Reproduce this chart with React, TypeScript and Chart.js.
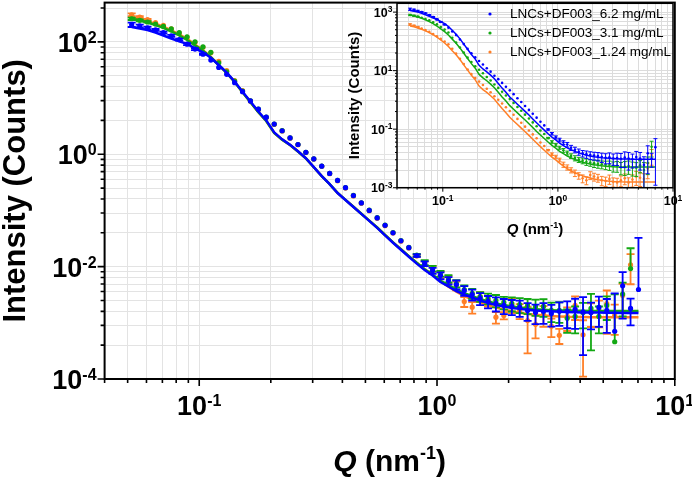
import React, { useEffect, useRef } from 'react';
import { Chart, registerables } from 'chart.js';

Chart.register(...registerables);

// ---------------- DATA ----------------
const Q = [0.0520, 0.0562, 0.0606, 0.0655, 0.0707, 0.0763, 0.0824, 0.0889, 0.0960, 0.1037, 0.1119, 0.1208, 0.1305, 0.1409, 0.1521, 0.1642, 0.1773, 0.1914, 0.2067, 0.2232, 0.2410, 0.2602, 0.2809, 0.3033, 0.3275, 0.3536, 0.3818, 0.4122, 0.4451, 0.4805, 0.5188, 0.5602, 0.6048, 0.6530, 0.7050, 0.7612, 0.8219, 0.8874, 0.9581, 1.034, 1.117, 1.206, 1.302, 1.406, 1.518, 1.639, 1.769, 1.910, 2.063, 2.227, 2.404, 2.596, 2.803, 3.026, 3.268, 3.528, 3.809, 4.113, 4.441, 4.795, 5.176, 5.589, 6.034, 6.515, 7.035];

const SERIES_LABELS = ['LNCs+DF003_6.2 mg/mL', 'LNCs+DF003_3.1 mg/mL', 'LNCs+DF003_1.24 mg/mL'];
const CONCENTRATIONS = [6.2, 3.1, 1.24];
const COLORS = ['#0000ff', '#13a813', '#ff7f27'];

// main chart: intensity normalised by concentration
const blueNorm = [202, 192, 177, 163, 146, 128, 110, 91.0, 74.3, 60.5, 47.4, 35.1, 26.4, 18.8, 13.0, 8.91, 6.34, 4.57, 3.44, 2.62, 1.95, 1.49, 1.08, 0.826, 0.614, 0.455, 0.342, 0.254, 0.184, 0.136, 0.100, 0.0736, 0.0543, 0.0400, 0.0288, 0.0217, 0.0157, 0.0113, 0.00849, 0.00693, 0.00565, 0.00480, 0.00376, 0.00319, 0.00272, 0.00240, 0.00221, 0.00204, 0.00196, 0.00188, 0.00166, 0.00153, 0.00160, 0.00147, 0.00160, 0.00160, 0.00173, 0.00156, 0.00153, 0.00188, 0.00166, 0.000708, 0.00457, 0.00180, 0.00392];
const blueErrRel = [0.09, 0.06, 0.05, 0.04, 0.04, 0.04, 0.04, 0.04, 0.04, 0.03, 0, 0, 0, 0, 0, 0, 0, 0, 0, 0, 0, 0, 0, 0, 0, 0, 0, 0, 0, 0, 0, 0, 0, 0, 0, 0, 0.05, 0.10, 0.12, 0.14, 0.15, 0.18, 0.20, 0.22, 0.24, 0.25, 0.28, 0.30, 0.30, 0.32, 0.35, 0.38, 0.40, 0.42, 0.45, 0.50, 0.55, 0.83, 0.50, 0.55, 0.60, 3.7, 0.74, 0.50, 7.3];

const greenNorm = [258, 242, 226, 208, 188, 170, 146, 123, 100, 81.6, 65.2, 42.5, 29.4, 20.0, 13.3, 8.95, 6.35, 4.58, 3.45, 2.63, 1.96, 1.49, 1.08, 0.830, 0.615, 0.455, 0.343, 0.255, 0.185, 0.137, 0.101, 0.0745, 0.0550, 0.0405, 0.0292, 0.0220, 0.0160, 0.0118, 0.00923, 0.00752, 0.00614, 0.00500, 0.00392, 0.00333, 0.00294, 0.00272, 0.00250, 0.00231, 0.00221, 0.00212, 0.00204, 0.00196, 0.00196, 0.00166, 0.00166, 0.00120, 0.00130, 0.00153, 0.00180, 0.00130, 0.00204, 0.00046, 0.00325, 0.00923];
const greenErrRel = [0.05, 0.04, 0.03, 0, 0, 0, 0, 0, 0, 0, 0, 0, 0, 0, 0, 0, 0, 0, 0, 0, 0, 0, 0, 0, 0, 0, 0, 0, 0, 0, 0, 0, 0, 0, 0, 0, 0.05, 0.10, 0.12, 0.12, 0.15, 0.15, 0.18, 0.20, 0.20, 0.22, 0.25, 0.25, 0.28, 0.30, 0.30, 0.32, 0.35, 0.38, 0.40, 0.45, 0.50, 0.48, 0.82, 0.50, 0.45, 6.0, 0.60, 1.3];

const orangeNorm = [304, 277, 250, 221, 196, 170, 144, 120, 98.0, 80.0, 63.8, 45.2, 30.7, 20.4, 13.6, 8.80, 6.20, 4.50, 3.40, 2.60, 1.93, 1.47, 1.07, 0.820, 0.610, 0.450, 0.336, 0.250, 0.181, 0.134, 0.0985, 0.0725, 0.0535, 0.0395, 0.0284, 0.0214, 0.0155, 0.0113, 0.00923, 0.00722, 0.00589, 0.00461, 0.00239, 0.00190, 0.00294, 0.00250, 0.00126, 0.00135, 0.00212, 0.00166, 0.00110, 0.00094, 0.00141, 0.00087, 0.00060, 0.00130, 0.00204, 0.00061, 0.00153, 0.00166, 0.00220, 0.00136, 0.00307, 0.0108];
const orangeErrRel = [0.06, 0.04, 0.03, 0, 0, 0, 0, 0, 0, 0, 0, 0, 0, 0, 0, 0, 0, 0, 0, 0, 0, 0, 0, 0, 0, 0, 0, 0, 0, 0, 0, 0, 0, 0, 0, 0, 0.05, 0.10, 0.12, 0.14, 0.15, 0.18, 0.20, 0.23, 0.20, 0.22, 0.23, 0.15, 0.30, 0.30, 0.74, 0.44, 0.40, 0.36, 0.30, 0.45, 0.45, 0.82, 0.45, 0.50, 0.71, 0.55, 0.60, 0.55];

// model fits (normalised)
const blueFit = [184, 173, 163, 147, 130, 115, 102, 92.2, 76.7, 65.2, 52.1, 38.7, 28.3, 19.6, 13.0, 8.67, 5.77, 4.00, 2.45, 1.84, 1.47, 1.13, 0.849, 0.589, 0.408, 0.294, 0.204, 0.153, 0.115, 0.0867, 0.0652, 0.0490, 0.0361, 0.0266, 0.0200, 0.0150, 0.0113, 0.00867, 0.00693, 0.00532, 0.00443, 0.00368, 0.00319, 0.00282, 0.00250, 0.00226, 0.00208, 0.00196, 0.00184, 0.00177, 0.00170, 0.00166, 0.00163, 0.00160, 0.00157, 0.00155, 0.00154, 0.00153, 0.00152, 0.00152, 0.00151, 0.00151, 0.00150, 0.00150, 0.00150];
const greenFit = [258, 240, 221, 200, 177, 153, 130, 108, 86.7, 69.3, 53.2, 38.5, 28.0, 19.3, 12.7, 8.40, 5.60, 3.90, 2.40, 1.82, 1.46, 1.12, 0.845, 0.586, 0.407, 0.294, 0.205, 0.154, 0.116, 0.0875, 0.0660, 0.0496, 0.0366, 0.0270, 0.0204, 0.0154, 0.0117, 0.00900, 0.00720, 0.00560, 0.00468, 0.00390, 0.00338, 0.00298, 0.00265, 0.00240, 0.00221, 0.00207, 0.00195, 0.00187, 0.00180, 0.00175, 0.00171, 0.00168, 0.00166, 0.00165, 0.00164, 0.00164, 0.00163, 0.00163, 0.00163, 0.00163, 0.00163, 0.00163, 0.00163];
const orangeFit = [271, 252, 232, 210, 186, 161, 136, 113, 90.0, 71.0, 54.0, 38.5, 28.0, 19.3, 12.7, 8.40, 5.60, 3.90, 2.40, 1.82, 1.46, 1.12, 0.845, 0.586, 0.407, 0.294, 0.205, 0.154, 0.116, 0.0875, 0.0660, 0.0496, 0.0366, 0.0270, 0.0204, 0.0154, 0.0117, 0.00900, 0.00720, 0.00560, 0.00440, 0.00360, 0.00300, 0.00262, 0.00230, 0.00205, 0.00187, 0.00172, 0.00160, 0.00151, 0.00144, 0.00139, 0.00135, 0.00132, 0.00130, 0.00128, 0.00127, 0.00127, 0.00126, 0.00126, 0.00126, 0.00126, 0.00126, 0.00126, 0.00126];

// inset: raw counts; above Q index 40 the raw points differ from the normalised ones
const HIGH_Q_START = 40;
const blueCountsHighQ = [0.0350, 0.0298, 0.0233, 0.0198, 0.0169, 0.0149, 0.0140, 0.0130, 0.0125, 0.0120, 0.0112, 0.0105, 0.0110, 0.0100, 0.0104, 0.0098, 0.0108, 0.0100, 0.0094, 0.0112, 0.0100, 0.0060, 0.0150, 0.0100, 0.0243];
const blueCountsHighQErrRel = [0.15, 0.18, 0.20, 0.22, 0.24, 0.25, 0.28, 0.30, 0.30, 0.32, 0.35, 0.38, 0.40, 0.42, 0.45, 0.50, 0.55, 0.60, 0.50, 0.55, 0.60, 0.90, 0.80, 0.50, 0.95];
const greenCountsHighQ = [0.0190, 0.0155, 0.0122, 0.0103, 0.0091, 0.0084, 0.0077, 0.0072, 0.0068, 0.0066, 0.0063, 0.0061, 0.0060, 0.0055, 0.0056, 0.0050, 0.0052, 0.0055, 0.0050, 0.0048, 0.0058, 0.0040, 0.0070, 0.0250];
const greenCountsHighQErrRel = [0.15, 0.15, 0.18, 0.20, 0.20, 0.22, 0.25, 0.25, 0.28, 0.30, 0.30, 0.32, 0.35, 0.38, 0.40, 0.45, 0.50, 0.48, 0.50, 0.50, 0.45, 0.80, 0.60, 0.55];
const orangeCountsHighQ = [0.0062, 0.0050, 0.0040, 0.0032, 0.0026, 0.0021, 0.0018, 0.0027, 0.0024, 0.0022, 0.0018, 0.0017, 0.0020, 0.0016, 0.0015, 0.0018, 0.0021, 0.0015, 0.0019, 0.0024, 0.0022, 0.0020, 0.0045, 0.0130];
const orangeCountsHighQErrRel = [0.20, 0.20, 0.20, 0.25, 0.25, 0.30, 0.30, 0.30, 0.30, 0.30, 0.35, 0.35, 0.35, 0.35, 0.40, 0.40, 0.40, 0.45, 0.45, 0.50, 0.50, 0.50, 0.55, 0.55];

// axes
const X_RANGE = [0.04, 10];
const X_TICKS = [0.1, 1, 10];
const X_TICK_LABELS = ['10^-1', '10^0', '10^1'];
const MAIN_Y_RANGE = [1e-4, 500];
const MAIN_Y_TICKS = [1e-4, 1e-2, 1, 100];
const MAIN_Y_TICK_LABELS = ['10^-4', '10^-2', '10^0', '10^2'];
const INSET_Y_RANGE = [1e-3, 2000];
const INSET_Y_TICKS = [1e-3, 1e-1, 10, 1000];
const INSET_Y_TICK_LABELS = ['10^-3', '10^-1', '10^1', '10^3'];
const Y_TITLE = 'Intensity (Counts)';
const X_TITLE_PARTS = ['Q', ' (nm', '-1', ')'];

// ---------------- HELPERS ----------------
const FF = '"Liberation Sans", Arial, Helvetica, sans-serif';

function xMinorValues(min: number, max: number) {
  const out: number[] = [];
  for (let e = -3; e <= 2; e++) {
    for (let k = 2; k <= 9; k++) {
      const v = k * Math.pow(10, e);
      if (v >= min * 0.9999 && v < max * 0.9999) out.push(v);
    }
  }
  return out;
}
// majors every two decades; Origin-style minors at major*k^2
function yMinorValues(majors: number[], max: number) {
  const out: number[] = [];
  for (const m of majors) {
    for (let k = 2; k <= 9; k++) {
      const v = m * k * k;
      if (v < max) out.push(v);
    }
  }
  return out;
}

function drawPow(ctx: any, label: string, x: number, y: number, align: string, baseFont: string, expFont: string, raise: number) {
  const [b, e] = label.split('^');
  ctx.font = baseFont;
  const wb = ctx.measureText(b).width;
  ctx.font = expFont;
  const we = ctx.measureText(e).width;
  const total = wb + we;
  const sx = align === 'center' ? x - total / 2 : align === 'right' ? x - total : x;
  ctx.textAlign = 'left';
  ctx.textBaseline = 'alphabetic';
  ctx.font = baseFont;
  ctx.fillText(b, sx, y);
  ctx.font = expFont;
  ctx.fillText(e, sx + wb, y - raise);
}

function drawQTitle(ctx: any, cx: number, y: number, size: number, expSize: number, raise: number) {
  const fonts = [`italic bold ${size}px ${FF}`, `bold ${size}px ${FF}`, `bold ${expSize}px ${FF}`, `bold ${size}px ${FF}`];
  const dys = [0, 0, -raise, 0];
  let total = 0;
  const widths = X_TITLE_PARTS.map((t, i) => { ctx.font = fonts[i]; const w = ctx.measureText(t).width; total += w; return w; });
  let x = cx - total / 2;
  ctx.textAlign = 'left';
  ctx.textBaseline = 'alphabetic';
  X_TITLE_PARTS.forEach((t, i) => { ctx.font = fonts[i]; ctx.fillText(t, x, y + dys[i]); x += widths[i]; });
}

function makeDecor(cfg: any) {
  return {
    id: 'decor',
    beforeDraw(chart: any) {
      if (!cfg.areaFill) return;
      const { ctx, chartArea: a } = chart;
      ctx.save();
      ctx.fillStyle = cfg.areaFill;
      ctx.fillRect(a.left, a.top, a.right - a.left, a.bottom - a.top);
      ctx.restore();
    },
    beforeDatasetDraw(chart: any, args: any) {
      const ds = chart.data.datasets[args.index];
      if (!ds.errors) return;
      const { ctx, chartArea: a } = chart;
      const xs = chart.scales.x, ys = chart.scales.y;
      ctx.save();
      ctx.beginPath();
      ctx.rect(a.left, a.top, a.right - a.left, a.bottom - a.top);
      ctx.clip();
      ctx.strokeStyle = ds.backgroundColor;
      ctx.lineWidth = cfg.errWidth;
      const c = cfg.errCap;
      ds.data.forEach((p: any, i: number) => {
        const e = ds.errors[i];
        if (!e) return;
        const x = xs.getPixelForValue(p.x);
        const yv = ys.getPixelForValue(p.y);
        const yHi = ys.getPixelForValue(p.y + e);
        const hasLo = p.y - e > 0;
        const yLo = hasLo ? ys.getPixelForValue(p.y - e) : yv;
        ctx.beginPath();
        ctx.moveTo(x, yHi); ctx.lineTo(x, yLo);
        ctx.moveTo(x - c, yHi); ctx.lineTo(x + c, yHi);
        if (hasLo) { ctx.moveTo(x - c, yLo); ctx.lineTo(x + c, yLo); }
        ctx.stroke();
      });
      ctx.restore();
    },
    afterDraw(chart: any) {
      const { ctx, chartArea: a } = chart;
      const xs = chart.scales.x, ys = chart.scales.y;
      ctx.save();
      ctx.strokeStyle = '#000';
      ctx.lineWidth = cfg.frameWidth;
      ctx.strokeRect(a.left, a.top, a.right - a.left, a.bottom - a.top);
      ctx.lineWidth = cfg.tickWidth;
      ctx.beginPath();
      cfg.xMajor.forEach((v: number) => { const x = xs.getPixelForValue(v); ctx.moveTo(x, a.bottom); ctx.lineTo(x, a.bottom + cfg.tickMajor); });
      cfg.xMinor.forEach((v: number) => { const x = xs.getPixelForValue(v); ctx.moveTo(x, a.bottom); ctx.lineTo(x, a.bottom + cfg.tickMinor); });
      cfg.yMajor.forEach((v: number) => { const y = ys.getPixelForValue(v); ctx.moveTo(a.left, y); ctx.lineTo(a.left - cfg.tickMajor, y); });
      cfg.yMinor.forEach((v: number) => { const y = ys.getPixelForValue(v); ctx.moveTo(a.left, y); ctx.lineTo(a.left - cfg.tickMinor, y); });
      ctx.stroke();

      ctx.fillStyle = '#000';
      cfg.xLabels.forEach((lab: string, i: number) => {
        drawPow(ctx, lab, xs.getPixelForValue(cfg.xMajor[i]), a.bottom + cfg.xLabelDy, 'center', cfg.labelFont, cfg.expFont, cfg.expRaise);
      });
      cfg.yLabels.forEach((lab: string, i: number) => {
        drawPow(ctx, lab, a.left - cfg.yLabelGap, ys.getPixelForValue(cfg.yMajor[i]) + cfg.yLabelDy, 'right', cfg.labelFont, cfg.expFont, cfg.expRaise);
      });

      // y title
      ctx.save();
      ctx.translate(cfg.yTitleX, (a.top + a.bottom) / 2);
      ctx.rotate(-Math.PI / 2);
      ctx.font = `bold ${cfg.yTitleSize}px ${FF}`;
      ctx.textAlign = 'center';
      ctx.textBaseline = 'alphabetic';
      ctx.fillText(Y_TITLE, 0, 0);
      ctx.restore();
      // x title
      drawQTitle(ctx, (a.left + a.right) / 2, cfg.xTitleY, cfg.xTitleSize, cfg.xTitleExpSize, cfg.xTitleRaise);

      if (cfg.legend) {
        const L = cfg.legend;
        SERIES_LABELS.forEach((t, i) => {
          const y = L.rows[i];
          ctx.fillStyle = COLORS[i];
          ctx.beginPath();
          ctx.arc(L.markerX, y, L.markerR, 0, Math.PI * 2);
          ctx.fill();
          ctx.fillStyle = '#000';
          ctx.font = `${L.size}px ${FF}`;
          ctx.textAlign = 'left';
          ctx.textBaseline = 'middle';
          ctx.fillText(t, L.textX, y);
        });
      }
      ctx.restore();
    },
  };
}

function pointsDs(label: string, color: string, vals: number[], rel: number[], order: number, radius: number) {
  return {
    label,
    data: vals.map((y, i) => ({ x: Q[i], y })),
    errors: vals.map((v, i) => v * rel[i]),
    backgroundColor: color,
    borderColor: color,
    pointRadius: radius,
    pointHoverRadius: radius,
    pointBorderWidth: 0,
    showLine: false,
    order,
  };
}
function lineDs(color: string, vals: number[], width: number, order: number) {
  return {
    data: vals.map((y, i) => ({ x: Q[i], y })),
    borderColor: color,
    backgroundColor: color,
    borderWidth: width,
    pointRadius: 0,
    pointHoverRadius: 0,
    showLine: true,
    tension: 0,
    order,
  };
}

function buildConfig(spec: any) {
  const xMinor = xMinorValues(X_RANGE[0], X_RANGE[1]);
  const yMinor = yMinorValues(spec.yMajor, spec.yRange[1]);
  const xGrid = [...X_TICKS, ...xMinor].sort((a, b) => a - b);
  const yGrid = [...spec.yMajor, ...yMinor].sort((a, b) => a - b);
  const decor = makeDecor({ ...spec.style, xMajor: X_TICKS, xMinor, yMajor: spec.yMajor, yMinor, xLabels: X_TICK_LABELS, yLabels: spec.yLabels });
  return {
    type: 'scatter',
    data: { datasets: spec.datasets },
    options: {
      responsive: false,
      animation: false,
      devicePixelRatio: 1,
      events: [],
      layout: { padding: spec.padding },
      plugins: { legend: { display: false }, tooltip: { enabled: false }, title: { display: false } },
      scales: {
        x: {
          type: 'logarithmic', position: 'bottom', min: X_RANGE[0], max: X_RANGE[1],
          afterBuildTicks: (s: any) => { s.ticks = xGrid.map((v) => ({ value: v })); },
          afterFit: (s: any) => { s.height = spec.xAxisHeight; },
          ticks: { display: false, autoSkip: false },
          grid: { color: spec.gridColor, lineWidth: 1, drawTicks: false },
          border: { display: false },
        },
        y: {
          type: 'logarithmic', position: 'left', min: spec.yRange[0], max: spec.yRange[1],
          afterBuildTicks: (s: any) => { s.ticks = yGrid.map((v) => ({ value: v })); },
          afterFit: (s: any) => { s.width = spec.yAxisWidth; },
          ticks: { display: false, autoSkip: false },
          grid: { color: spec.gridColor, lineWidth: 1, drawTicks: false },
          border: { display: false },
        },
      },
    },
    plugins: [decor],
  };
}

function mainConfig() {
  const datasets = [
    lineDs(COLORS[0], blueFit, 2.5, 0),
    pointsDs(SERIES_LABELS[0], COLORS[0], blueNorm, blueErrRel, 1, 2.6),
    lineDs(COLORS[1], greenFit, 2.5, 2),
    pointsDs(SERIES_LABELS[1], COLORS[1], greenNorm, greenErrRel, 3, 2.6),
    lineDs(COLORS[2], orangeFit, 2.5, 4),
    pointsDs(SERIES_LABELS[2], COLORS[2], orangeNorm, orangeErrRel, 5, 2.6),
  ];
  return buildConfig({
    datasets,
    yRange: MAIN_Y_RANGE,
    yMajor: MAIN_Y_TICKS,
    yLabels: MAIN_Y_TICK_LABELS,
    padding: { top: 1, right: 17.2, bottom: 0, left: 0 },
    yAxisWidth: 104.6,
    xAxisHeight: 101,
    gridColor: '#e3e3e3',
    style: {
      frameWidth: 2, tickWidth: 1.6, tickMajor: 7, tickMinor: 4,
      errWidth: 1.8, errCap: 4,
      labelFont: `bold 27px ${FF}`, expFont: `bold 16px ${FF}`, expRaise: 9,
      xLabelDy: 36, yLabelGap: 8, yLabelDy: 10,
      yTitleX: 25, yTitleSize: 31,
      xTitleY: 471, xTitleSize: 30, xTitleExpSize: 18, xTitleRaise: 12,
    },
  });
}

function insetSeries(norm: number[], conc: number, highQ: number[]) {
  return [...norm.slice(0, HIGH_Q_START).map((v) => v * conc), ...highQ];
}
function insetErr(rel: number[], highRel: number[]) {
  return [...rel.slice(0, HIGH_Q_START), ...highRel];
}

function insetConfig() {
  const datasets = [
    lineDs(COLORS[0], blueFit.map((v) => v * CONCENTRATIONS[0]), 1.5, 0),
    pointsDs(SERIES_LABELS[0], COLORS[0], insetSeries(blueNorm, CONCENTRATIONS[0], blueCountsHighQ), insetErr(blueErrRel, blueCountsHighQErrRel), 1, 1.3),
    lineDs(COLORS[1], greenFit.map((v) => v * CONCENTRATIONS[1]), 1.5, 2),
    pointsDs(SERIES_LABELS[1], COLORS[1], insetSeries(greenNorm, CONCENTRATIONS[1], greenCountsHighQ), insetErr(greenErrRel, greenCountsHighQErrRel), 3, 1.3),
    lineDs(COLORS[2], orangeFit.map((v) => v * CONCENTRATIONS[2]), 1.5, 4),
    pointsDs(SERIES_LABELS[2], COLORS[2], insetSeries(orangeNorm, CONCENTRATIONS[2], orangeCountsHighQ), insetErr(orangeErrRel, orangeCountsHighQErrRel), 5, 1.3),
  ];
  return buildConfig({
    datasets,
    yRange: INSET_Y_RANGE,
    yMajor: INSET_Y_TICKS,
    yLabels: INSET_Y_TICK_LABELS,
    padding: { top: 3.3, right: 19, bottom: 0, left: 0 },
    yAxisWidth: 67,
    xAxisHeight: 57.3,
    gridColor: '#dcdcdc',
    style: {
      areaFill: '#ffffff',
      frameWidth: 1.5, tickWidth: 1, tickMajor: 4, tickMinor: 2,
      errWidth: 1, errCap: 2,
      labelFont: `bold 12.5px ${FF}`, expFont: `bold 8.5px ${FF}`, expRaise: 4.5,
      xLabelDy: 17.3, yLabelGap: 4.5, yLabelDy: 4.4,
      yTitleX: 28.5, yTitleSize: 15,
      xTitleY: 233.5, xTitleSize: 15, xTitleExpSize: 9, xTitleRaise: 6,
      legend: { markerX: 160, textX: 180, rows: [14, 33, 52], markerR: 1.6, size: 13.5 },
    },
  });
}

export default function App() {
  const mainRef = useRef<HTMLCanvasElement>(null);
  const insetRef = useRef<HTMLCanvasElement>(null);
  useEffect(() => {
    document.body.style.margin = '0';
    const main = new Chart(mainRef.current as any, mainConfig() as any);
    const inset = new Chart(insetRef.current as any, insetConfig() as any);
    return () => {
      main.destroy();
      inset.destroy();
    };
  }, []);
  return (
    <div style={{ position: 'relative', width: 692, height: 480, background: '#ffffff', overflow: 'hidden' }}>
      <canvas ref={mainRef} width={692} height={480} style={{ position: 'absolute', left: 0, top: 0 }} />
      <canvas ref={insetRef} width={362} height={245} style={{ position: 'absolute', left: 330, top: 0 }} />
    </div>
  );
}
